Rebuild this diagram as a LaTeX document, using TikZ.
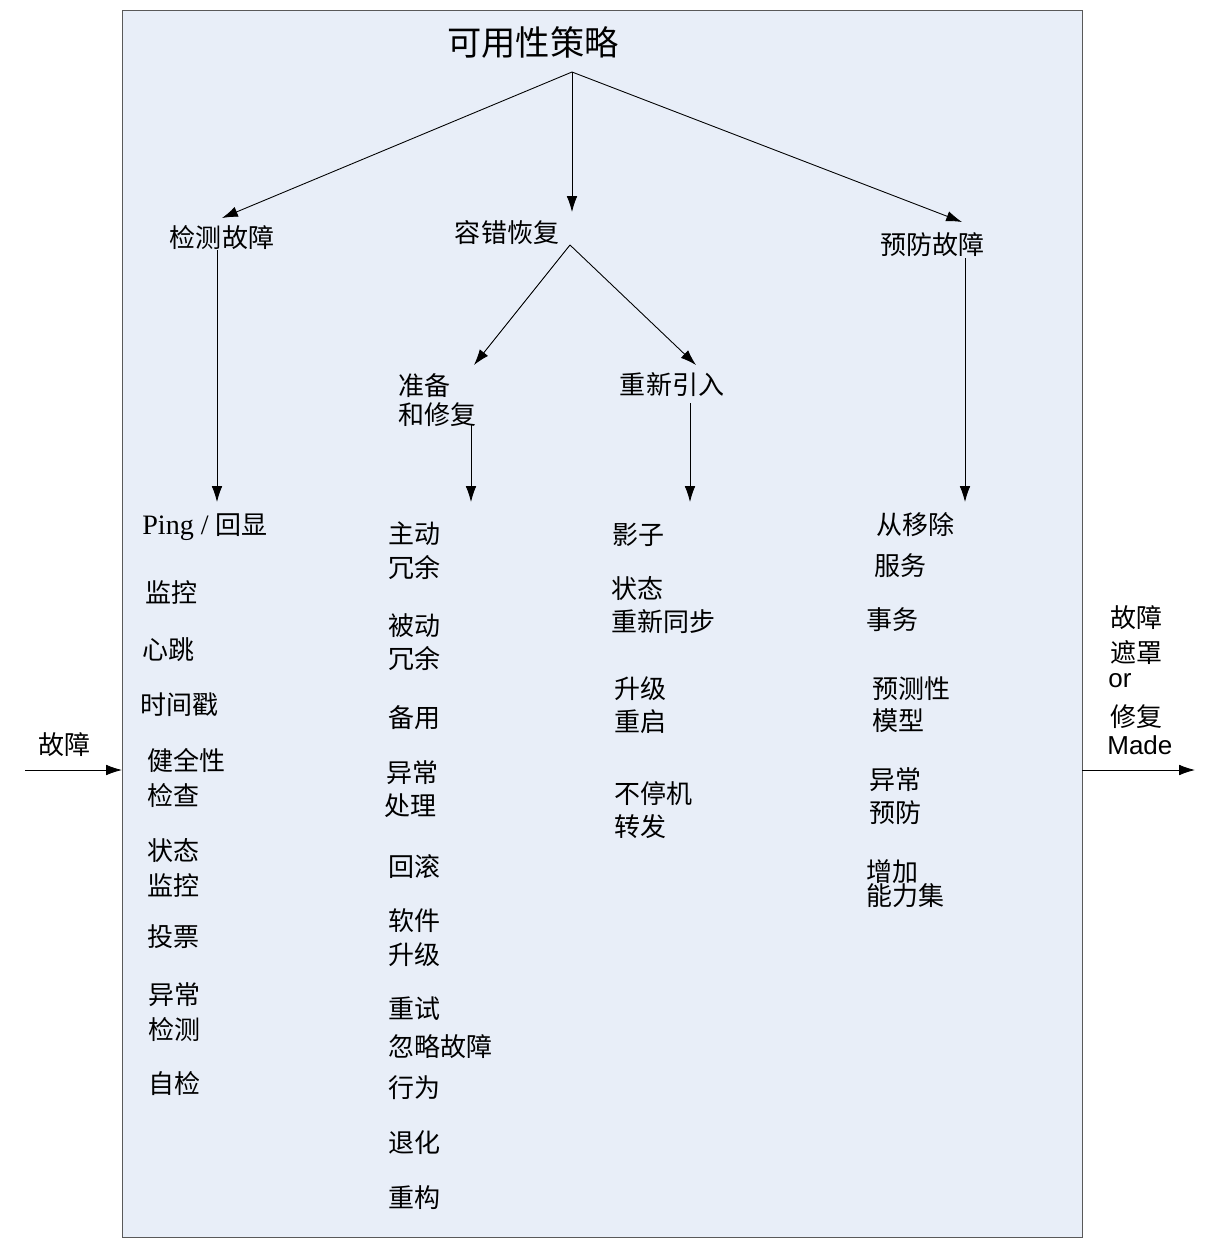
\documentclass[tikz,border=0pt]{standalone}
\usepackage{fontspec}
\setmainfont{Noto Sans CJK SC}
\newfontfamily\lser{Liberation Serif}
\newfontfamily\lsan{Liberation Sans}
\usetikzlibrary{arrows.meta}
\definecolor{bgblue}{HTML}{E8EEF8}
\begin{document}
\begin{tikzpicture}[x=0.02cm,y=-0.02cm,
  t/.style={inner sep=0pt,anchor=west,font=\fontsize{14.8}{15}\selectfont},
  h/.style={inner sep=0pt,font=\fontsize{14.8}{15}\selectfont},
  ar/.style={-{Latex[length=9pt,width=6pt]},line width=0.5pt}]
\useasboundingbox (0,0) rectangle (1212,1245);
\node[draw=gray!70!black,fill=bgblue,minimum width=19.2cm,minimum height=24.54cm,anchor=north west,inner sep=0pt,line width=0.6pt] (box) at (122,10) {};
\node[inner sep=0pt,font=\fontsize{19.5}{20}\selectfont] (title) at (533,42) {可用性策略};
\coordinate (top) at (572,72);
\node[h] (det) at (222,238) {检测故障};
\node[h] (rec) at (507,233) {容错恢复};
\node[h] (pre) at (932,245) {预防故障};
\coordinate (detin) at (222,218);
\coordinate (recin) at (572,212);
\coordinate (prein) at (962,222);
\draw[ar] (top) -- (detin);
\draw[ar] (top) -- (recin);
\draw[ar] (top) -- (prein);
\coordinate (d1) at (217,250); \coordinate (d2) at (217,502);
\draw[ar] (d1) -- (d2);
\coordinate (r0) at (570,245);
\coordinate (r1) at (474,365); \coordinate (r2) at (696,365);
\draw[ar] (r0) -- (r1); \draw[ar] (r0) -- (r2);
\node[t] (zb1) at (398,386) {准备};
\node[t] (zb2) at (398,415) {和修复};
\node[h] (cxyr) at (672,385) {重新引入};
\coordinate (z1) at (471,425); \coordinate (z2) at (471,502);
\draw[ar] (z1) -- (z2);
\coordinate (c1) at (690,403); \coordinate (c2) at (690,502);
\draw[ar] (c1) -- (c2);
\coordinate (p1) at (965,258); \coordinate (p2) at (965,502);
\draw[ar] (p1) -- (p2);
\node[t] (fault) at (38,745) {故障};
\coordinate (fin) at (25,770);
\coordinate (fboxl) at (122,770);
\draw[ar] (fin) -- (fboxl);
\coordinate (fboxr) at (1082,770);
\coordinate (fout) at (1195,770);
\draw[ar] (fboxr) -- (fout);
% column 1
\node[t] (a1) at (142,527) {{\lser\fontsize{16}{16}\selectfont Ping / }回显};
\node[t] (a2) at (145,592) {监控};
\node[t] (a3) at (142,650) {心跳};
\node[t] (a4) at (140,705) {时间戳};
\node[t] (a5) at (147,760) {健全性};
\node[t] (a6) at (147,796) {检查};
\node[t] (a7) at (147,851) {状态};
\node[t] (a8) at (147,885) {监控};
\node[t] (a9) at (147,937) {投票};
\node[t] (a10) at (148,995) {异常};
\node[t] (a11) at (148,1030) {检测};
\node[t] (a12) at (148,1084) {自检};
% column 2
\node[t] (b1) at (388,534) {主动};
\node[t] (b2) at (388,567) {冗余};
\node[t] (b3) at (388,626) {被动};
\node[t] (b4) at (388,658) {冗余};
\node[t] (b5) at (388,718) {备用};
\node[t] (b6) at (386,773) {异常};
\node[t] (b7) at (384,806) {处理};
\node[t] (b8) at (388,867) {回滚};
\node[t] (b9) at (388,921) {软件};
\node[t] (b10) at (388,955) {升级};
\node[t] (b11) at (388,1009) {重试};
\node[t] (b12) at (388,1047) {忽略故障};
\node[t] (b13) at (388,1088) {行为};
\node[t] (b14) at (388,1143) {退化};
\node[t] (b15) at (388,1198) {重构};
% column 3
\node[t] (c31) at (612,535) {影子};
\node[t] (c32) at (611,589) {状态};
\node[t] (c33) at (611,622) {重新同步};
\node[t] (c34) at (614,689) {升级};
\node[t] (c35) at (614,722) {重启};
\node[t] (c36) at (614,794) {不停机};
\node[t] (c37) at (614,827) {转发};
% column 4
\node[t] (e1) at (876,525) {从移除};
\node[t] (e2) at (874,566) {服务};
\node[t] (e3) at (866,620) {事务};
\node[t] (e4) at (872,689) {预测性};
\node[t] (e5) at (872,721) {模型};
\node[t] (e6) at (869,780) {异常};
\node[t] (e7) at (869,813) {预防};
\node[t] (e8) at (866,872) {增加};
\node[t] (e9) at (866,896) {能力集};
% right
\node[t] (g1) at (1110,618) {故障};
\node[t] (g2) at (1110,653) {遮罩};
\node[t] (g3) at (1108,681) {\lsan or};
\node[t] (g4) at (1110,717) {修复};
\node[t] (g5) at (1107,745) {\lsan Made};
\end{tikzpicture}
\end{document}
